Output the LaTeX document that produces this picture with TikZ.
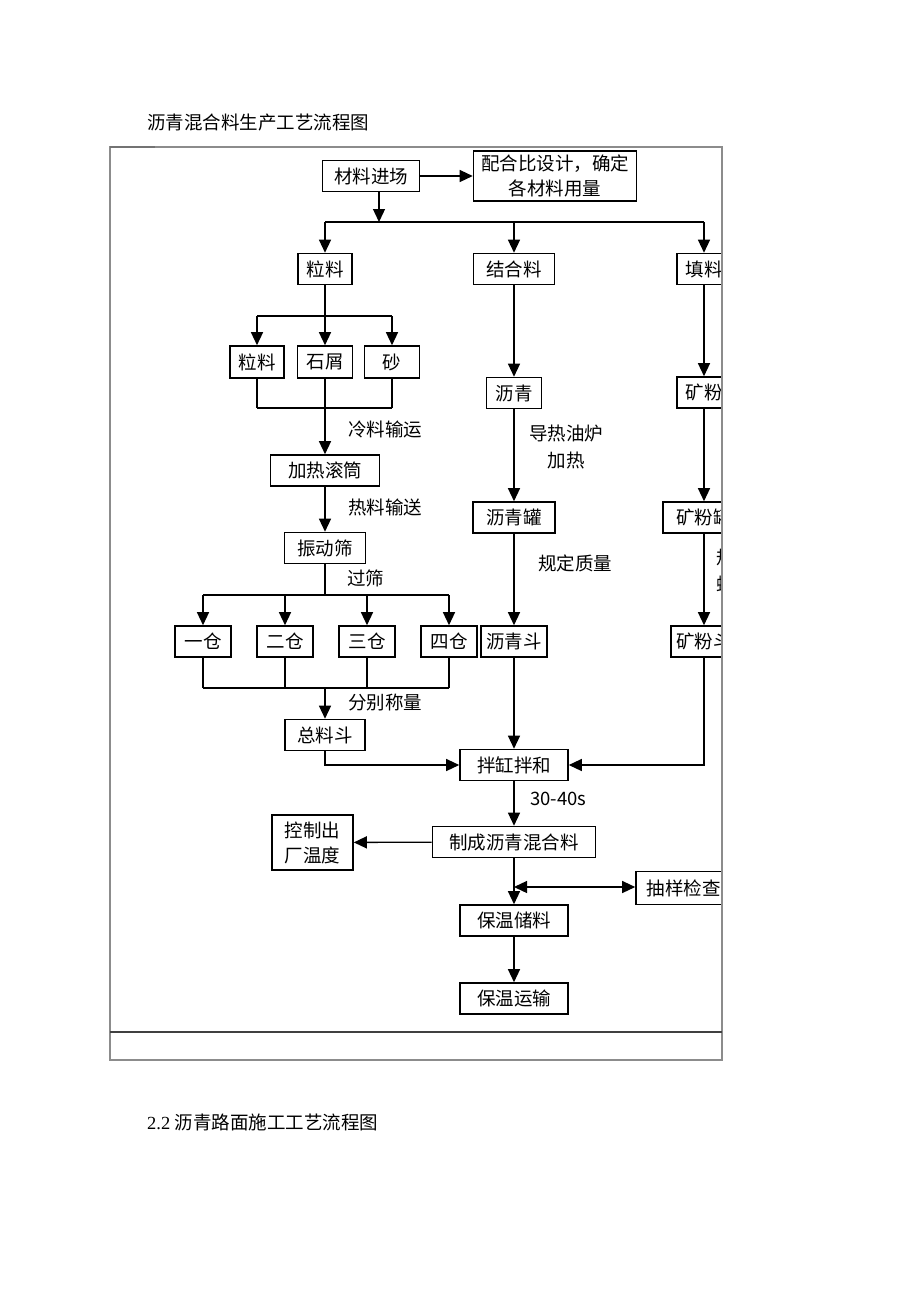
\documentclass[tikz,border=0pt]{standalone}
\usepackage{fontspec}
\setmainfont{Liberation Serif}
\newfontfamily\cjk{Noto Sans CJK SC}
\usetikzlibrary{arrows.meta}
\tikzstyle{box}=[draw, line width=1.6pt, minimum height=31pt, inner sep=0pt, align=center, font=\cjk\fontsize{18.5}{25}\selectfont]
\tikzstyle{lbl}=[inner sep=0pt, align=left, font=\cjk\fontsize{18.5}{27}\selectfont]
\tikzstyle{link}=[line width=1.3pt]
\tikzstyle{flow}=[link, -{Triangle[length=13pt,width=12pt]}]
\tikzstyle{both}=[link, {Triangle[length=13pt,width=12pt]}-{Triangle[length=13pt,width=12pt]}]
\definecolor{framegray}{rgb}{0.55, 0.55, 0.55}

\begin{document}
\begin{tikzpicture}[x=1pt, y=-1pt]
	\useasboundingbox (0,0) rectangle (920,1302);
	% headings
	\node[lbl, anchor=west] (title) at (147,123) {沥青混合料生产工艺流程图};
	\node[anchor=west, inner sep=0pt, font=\fontsize{18.5}{22}\selectfont] (next) at (147,1122) {2.2 {\cjk 沥青路面施工工艺流程图}};
	\begin{scope}
		\clip (110,140) rectangle (721,1032);
		% top row
		\node[box, minimum width=97pt] (src) at (371,176) {材料进场};
		\node[box, minimum width=163pt, minimum height=50pt] (ratio) at (555,176) {配合比设计，确定\\各材料用量};
		\draw[flow] (src) -- (ratio);
		\coordinate (split) at (379,222);
		\draw[flow] (src.south -| split) -- (split);
		% three kinds of material
		\node[box, minimum width=54pt] (agg) at (325,269) {粒料};
		\node[box, minimum width=81pt] (binder) at (514,269) {结合料};
		\node[box, minimum width=54pt] (filler) at (704,269) {填料};
		\draw[link] (split -| agg) -- (split -| filler);
		\foreach \n in {agg, binder, filler}{
			\draw[flow] (split -| \n) -- (\n);
		}
		% aggregate column
		\coordinate (fork1) at (325,316);
		\coordinate (join1) at (325,408);
		\draw[link] (agg) -- (fork1);
		\node[box, minimum width=54pt, minimum height=32pt] (coarse) at (257,362) {粒料};
		\node[box, minimum width=55pt, minimum height=32pt] (chip) at (325,362) {石屑};
		\node[box, minimum width=55pt, minimum height=32pt] (sand) at (392,362) {砂};
		\draw[link] (fork1 -| coarse) -- (fork1 -| sand);
		\draw[link] (join1 -| coarse) -- (join1 -| sand);
		\foreach \n in {coarse, chip, sand}{
			\draw[flow] (fork1 -| \n) -- (\n);
			\draw[link] (\n) -- (join1 -| \n);
		}
		\node[box, minimum width=109pt] (drum) at (325,470.5) {加热滚筒};
		\draw[flow] (join1) -- (drum);
		\node[lbl, anchor=west] (cold) at (348,429) {冷料输运};
		\node[box, minimum width=81pt] (screen) at (325,548) {振动筛};
		\draw[flow] (drum) -- (screen);
		\node[lbl, anchor=west] (hot) at (348,507) {热料输送};
		\node[lbl, anchor=west] (sieve) at (347,578) {过筛};
		% four bins, using a loop
		\coordinate (fork2) at (325,595);
		\coordinate (join2) at (325,688);
		\foreach \n/\x/\t in {bin1/203/一仓, bin2/285/二仓, bin3/367/三仓, bin4/449/四仓}{
			\node[box, minimum width=56pt] (\n) at (\x,641.5) {\t};
			\draw[flow] (fork2 -| \n) -- (\n);
			\draw[link] (\n) -- (join2 -| \n);
		}
		\draw[link] (screen) -- (fork2);
		\draw[link] (fork2 -| bin1) -- (fork2 -| bin4);
		\draw[link] (join2 -| bin1) -- (join2 -| bin4);
		\node[lbl, anchor=west] (weigh) at (348,703) {分别称量};
		\node[box, minimum width=80pt] (total) at (325,735) {总料斗};
		\draw[flow] (join2) -- (total);
		% binder column
		\node[box, minimum width=55pt] (asph) at (514,393) {沥青};
		\node[box, minimum width=82pt] (tank) at (514,517.5) {沥青罐};
		\node[box, minimum width=66pt] (hopper) at (514,641.5) {沥青斗};
		\draw[flow] (binder) -- (asph);
		\draw[flow] (asph) -- (tank);
		\draw[flow] (tank) -- (hopper);
		\node[lbl, align=center] (oil) at (566,447) {导热油炉\\加热};
		\node[lbl, anchor=west] (mass) at (538,563) {规定质量};
		% filler column
		\node[box, minimum width=54pt] (powder) at (704,392.5) {矿粉};
		\node[box, minimum width=82pt] (ptank) at (704,517.5) {矿粉罐};
		\node[box, minimum width=66pt] (phopper) at (704,641.5) {矿粉斗};
		\draw[flow] (filler) -- (powder);
		\draw[flow] (powder) -- (ptank);
		\draw[flow] (ptank) -- (phopper);
		\node[lbl, anchor=west] (screw) at (716,571) {规定质量\\螺旋输送};
		% mixing and after
		\node[box, minimum width=108pt] (mixer) at (514,765) {拌缸拌和};
		\draw[flow] (hopper) -- (mixer);
		\draw[flow] (total.south) |- (mixer.west);
		\draw[flow] (phopper.south) |- (mixer.east);
		\node[lbl, anchor=west] (time) at (530,799) {30-40s};
		\node[box, minimum width=163pt] (product) at (514,842) {制成沥青混合料};
		\draw[flow] (mixer) -- (product);
		\node[box, minimum width=81pt, minimum height=55pt] (temp) at (312.5,842.5) {控制出\\厂温度};
		\draw[flow] (product) -- (temp);
		\node[box, minimum width=108pt] (store) at (514,920.5) {保温储料};
		\draw[flow] (product) -- (store);
		\coordinate (tap) at (514,887);
		\node[box, minimum width=95pt, minimum height=33pt] (check) at (683.5,888) {抽样检查};
		\draw[both] (tap) -- (check.west |- tap);
		\node[box, minimum width=108pt] (haul) at (514,998.5) {保温运输};
		\draw[flow] (store) -- (haul);
	\end{scope}
	% table frame
	\draw[framegray, line width=1.5pt] (110,147) rectangle (722,1060);
	\draw[black!75, line width=1.3pt] (110,1032) -- (722,1032);
	\draw[black!55, line width=1.5pt] (110,147) -- (155,147);
\end{tikzpicture}
\end{document}
